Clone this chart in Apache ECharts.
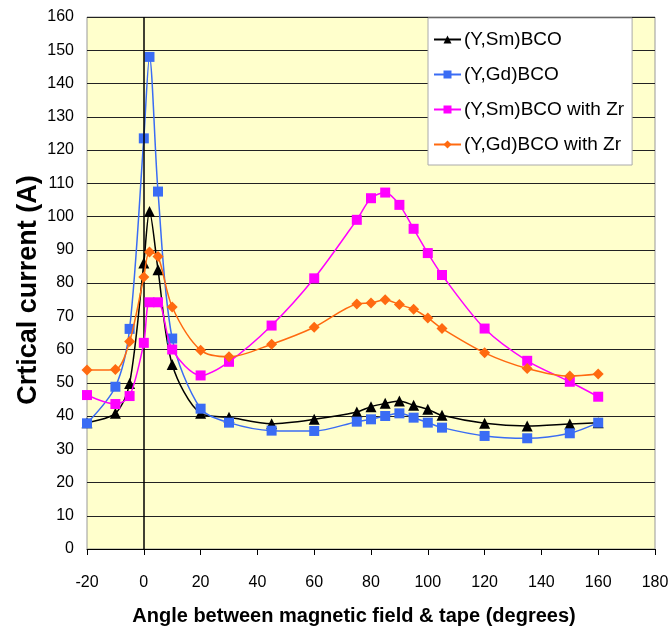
<!DOCTYPE html>
<html>
<head>
<meta charset="utf-8">
<script src="https://cdn.jsdelivr.net/npm/echarts@6/dist/echarts.min.js"></script>
<style>html,body{margin:0;padding:0;background:#fff;}#c{width:669px;height:632px;}</style>
</head>
<body>
<div id="c"></div>
<script>
const angles = [-20, -10, -5, 0, 2, 5, 10, 20, 30, 45, 60, 75, 80, 85, 90, 95, 100, 105, 120, 135, 150, 160];
const ysmBCO = [38, 40.8, 49.8, 86, 101.5, 84, 55.5, 40.8, 39.6, 37.7, 39, 41.2, 42.8, 43.8, 44.5, 43.2, 42, 40.2, 37.8, 37, 37.6, 38];
const ygdBCO = [37.8, 48.8, 66.2, 123.5, 148, 107.5, 63.3, 42.2, 38, 35.6, 35.5, 38.3, 39, 40, 40.8, 39.5, 38, 36.5, 34, 33.3, 34.8, 38];
const ysmBCOZr = [46.3, 43.6, 46, 62, 74.2, 74.2, 60, 52.2, 56.3, 67.2, 81.4, 99, 105.5, 107.2, 103.5, 96.3, 89, 82.4, 66.3, 56.6, 50.3, 45.8];
const ygdBCOZr = [53.8, 54, 62.4, 81.8, 89.3, 88, 72.8, 59.8, 57.8, 61.6, 66.7, 73.7, 74, 75, 73.5, 72.1, 69.5, 66.3, 59, 54.3, 52, 52.6];
const seriesNames = ['(Y,Sm)BCO', '(Y,Gd)BCO', '(Y,Sm)BCO with Zr', '(Y,Gd)BCO with Zr'];
const xTitle = 'Angle between magnetic field & tape (degrees)';
const yTitle = 'Crtical current (A)';

const FONT = '"Liberation Sans", Arial, sans-serif';
function pairs(vals) { return angles.map((a, i) => [a, vals[i]]); }
const defs = [
  { data: ysmBCO, color: '#000000', symbol: 'triangle', size: 11 },
  { data: ygdBCO, color: '#3a6cf4', symbol: 'rect', size: 10 },
  { data: ysmBCOZr, color: '#ff00ff', symbol: 'rect', size: 10 },
  { data: ygdBCOZr, color: '#ff6a10', symbol: 'diamond', size: 11 }
];
const series = defs.map((d, i) => ({
  name: seriesNames[i],
  type: 'line',
  data: pairs(d.data),
  smooth: 0.3,
  symbol: d.symbol,
  symbolSize: d.size,
  showAllSymbol: true,
  lineStyle: { color: d.color, width: 1.5 },
  itemStyle: { color: d.color },
  z: 3 + i
}));
series[0].markLine = {
  silent: true, symbol: 'none', label: { show: false },
  lineStyle: { color: '#000', width: 1.5, type: 'solid' },
  data: [{ xAxis: 0 }]
};

const chart = echarts.init(document.getElementById('c'), null, { renderer: 'canvas' });
chart.setOption({
  animation: false,
  backgroundColor: '#ffffff',
  textStyle: { fontFamily: FONT },
  grid: {
    left: 87, right: 14, top: 17, bottom: 83,
    outerBoundsMode: 'none',
    containLabel: false,
    show: true, backgroundColor: '#ffffcc', borderColor: '#999999', borderWidth: 1
  },
  legend: {
    orient: 'vertical',
    left: 428, top: 18,
    backgroundColor: '#ffffff',
    borderColor: '#aaaaaa', borderWidth: 1,
    padding: [12, 8, 11, 5],
    itemGap: 16,
    itemWidth: 27, itemHeight: 10,
    textStyle: { fontFamily: FONT, fontSize: 19, color: '#000', padding: [0, 0, 0, -2] },
    data: seriesNames
  },
  xAxis: {
    type: 'value', min: -20, max: 180, interval: 20,
    name: xTitle, nameLocation: 'middle', nameGap: 57, nameMoveOverlap: false,
    nameTextStyle: { fontFamily: FONT, fontSize: 20, fontWeight: 'bold', color: '#000', padding: [0, 34, 0, 0] },
    axisLine: { show: true, onZero: false, lineStyle: { color: '#000', width: 1 } },
    axisTick: { show: true, inside: false, length: 6, lineStyle: { color: '#000' } },
    axisLabel: { fontFamily: FONT, fontSize: 16, color: '#000', margin: 26 },
    splitLine: { show: false }
  },
  yAxis: {
    type: 'value', min: 0, max: 160, interval: 10,
    name: yTitle, nameLocation: 'middle', nameGap: 45, nameMoveOverlap: false,
    nameTextStyle: { fontFamily: FONT, fontSize: 27, fontWeight: 'bold', color: '#000', padding: [0, 14, 0, 0] },
    axisLine: { show: false },
    axisTick: { show: false },
    axisLabel: { fontFamily: FONT, fontSize: 16, color: '#000', margin: 13 },
    splitLine: { show: true, lineStyle: { color: '#222', width: 1 } }
  },
  series: series
});
</script>
</body>
</html>
